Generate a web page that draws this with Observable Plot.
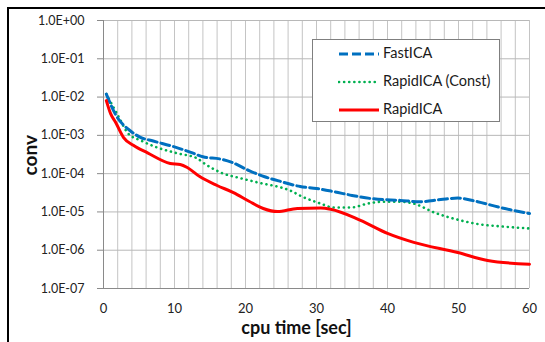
<!DOCTYPE html>
<html><head><meta charset="utf-8">
<script src="https://cdn.jsdelivr.net/npm/d3@7"></script>
<script src="https://cdn.jsdelivr.net/npm/@observablehq/plot@0.6"></script>
<style>
body{margin:0;background:#fff;}
#wrap{position:relative;width:545px;height:342px;overflow:hidden;font-family:Lato,"Open Sans",sans-serif;}
#frame{position:absolute;left:7px;top:7px;width:600px;height:400px;border-left:2px solid #000;border-top:2px solid #000;pointer-events:none;}
#legend{position:absolute;left:312px;top:39px;width:186px;height:81px;border:1px solid #7f7f7f;background:#fff;}
.row{position:absolute;left:0;height:20px;}
.row svg{position:absolute;left:25px;top:5px;}
.row span{position:absolute;left:70px;top:0px;font-size:14.5px;line-height:18px;color:#1a1a1a;white-space:nowrap;}
#plot{position:absolute;left:0;top:0;}
</style></head><body><div id="wrap"><div id="plot"></div><div id="frame"></div><div id="legend"></div></div>
<script>
// ---- data ----
const seriesNames = ["FastICA", "RapidICA (Const)", "RapidICA"];
const seriesColors = ["#0070C0", "#00B050", "#FF0000"];

const fastT = [0.4, 1.7, 3.8, 5.2, 7, 10, 12.3, 14, 16.5, 18, 20.5, 22.7, 25, 27.7, 30, 32.4, 35, 38, 41.8, 44.6, 47.5, 49.9, 52.7, 55.9, 60];
const fastV = [1.2e-2, 3.5e-3, 1.3e-3, 8.9e-4, 7.1e-4, 5.0e-4, 3.6e-4, 2.75e-4, 2.4e-4, 2.0e-4, 1.2e-4, 8.3e-5, 6.2e-5, 4.6e-5, 4.1e-5, 3.4e-5, 2.7e-5, 2.2e-5, 2.0e-5, 1.85e-5, 2.1e-5, 2.3e-5, 1.85e-5, 1.3e-5, 9.1e-6];

const constT = [0.4, 2, 3.5, 5.2, 7.6, 10.4, 13.2, 14.1, 16.5, 19.3, 21.7, 26.3, 28, 30.6, 32.4, 34.8, 37.2, 39.4, 41.8, 43.7, 46.5, 50.3, 53.1, 55.9, 60];
const constV = [1.2e-2, 3.4e-3, 1.1e-3, 7.4e-4, 4.8e-4, 3.4e-4, 2.5e-4, 1.9e-4, 1.07e-4, 7.6e-5, 5.9e-5, 3.6e-5, 2.5e-5, 1.65e-5, 1.3e-5, 1.3e-5, 1.65e-5, 1.85e-5, 1.85e-5, 1.65e-5, 9.8e-6, 6.0e-6, 4.7e-6, 4.2e-6, 3.7e-6];

const rapidT = [0.4, 1, 1.7, 2.8, 4.2, 6.2, 9.4, 10.8, 11.8, 13.5, 16, 18.3, 20.5, 22.5, 24.5, 27.3, 30.6, 32, 36.2, 40, 43.7, 49.9, 54.1, 60];
const rapidV = [8.1e-3, 3.7e-3, 2.2e-3, 8.9e-4, 5.5e-4, 3.5e-4, 1.85e-4, 1.74e-4, 1.45e-4, 8.5e-5, 4.9e-5, 3.2e-5, 1.9e-5, 1.23e-5, 1.02e-5, 1.23e-5, 1.26e-5, 1.17e-5, 6.0e-6, 2.75e-6, 1.6e-6, 8.7e-7, 5.4e-7, 4.3e-7];

const yTicks = [1, 1e-1, 1e-2, 1e-3, 1e-4, 1e-5, 1e-6, 1e-7];
const yTickLabels = ["1.0E+00", "1.0E-01", "1.0E-02", "1.0E-03", "1.0E-04", "1.0E-05", "1.0E-06", "1.0E-07"];
const xTicks = [0, 10, 20, 30, 40, 50, 60];
const xGrid = d3.range(0, 61, 2);

const xLabel = "cpu time [sec]";
const yLabel = "conv";

// ---- build ----
const toRows = (T, V) => T.map((t, i) => ({t, v: V[i]}));
const fast = toRows(fastT, fastV);
const cnst = toRows(constT, constV);
const rapid = toRows(rapidT, rapidV);
const fmt = v => yTickLabels[yTicks.findIndex(k => Math.abs(Math.log10(k) - Math.log10(v)) < 1e-6)];

const chart = Plot.plot({
  width: 545, height: 342,
  marginLeft: 103, marginRight: 16, marginTop: 20, marginBottom: 54,
  style: {fontFamily: "Lato, 'Open Sans', sans-serif", background: "transparent", color: "#222"},
  x: {domain: [0, 60]},
  y: {type: "log", domain: [1e-7, 1]},
  marks: [
    Plot.gridX(xGrid, {stroke: "#c4c4c4", strokeOpacity: 1}),
    Plot.gridY(yTicks, {stroke: "#b8b8b8", strokeOpacity: 1}),
    Plot.ruleX([0], {stroke: "#8a8a8a"}),
    Plot.ruleY([1e-7], {stroke: "#8a8a8a"}),
    Plot.axisY(yTicks, {tickFormat: fmt, tickSize: 6, tickPadding: 13, fontSize: 12.5, stroke: "#8a8a8a", label: null}),
    Plot.axisX(xTicks, {tickSize: 0, tickPadding: 15, fontSize: 13, label: null}),
    Plot.line(cnst, {x: "t", y: "v", stroke: seriesColors[1], strokeWidth: 2.6, strokeDasharray: "0.1,5", strokeLinecap: "round", curve: "monotone-x"}),
    Plot.line(fast, {x: "t", y: "v", stroke: seriesColors[0], strokeWidth: 3, strokeDasharray: "9,4", curve: "monotone-x"}),
    Plot.line(rapid, {x: "t", y: "v", stroke: seriesColors[2], strokeWidth: 3, curve: "monotone-x"}),
    Plot.text([yLabel], {frameAnchor: "left", dx: -73, dy: 21, rotate: -90, fontSize: 19, fontWeight: "bold", fill: "#111"}),
    Plot.text([xLabel], {frameAnchor: "bottom", dx: -20, dy: 45, fontSize: 18, fontWeight: "bold", fill: "#111"})
  ]
});
document.getElementById("plot").appendChild(chart);

// legend
const legend = document.getElementById("legend");
const styles = [
  {dash: "9,4", w: 3, cap: "butt"},
  {dash: "0.1,5", w: 2.6, cap: "round"},
  {dash: null, w: 3, cap: "butt"}
];
seriesNames.forEach((name, i) => {
  const row = document.createElement("div");
  row.className = "row";
  row.style.top = (4 + i * 28) + "px";
  row.style.width = "186px";
  const s = styles[i];
  row.innerHTML = `<svg width="42" height="10"><line x1="1" y1="5" x2="41" y2="5" stroke="${seriesColors[i]}" stroke-width="${s.w}" stroke-linecap="${s.cap}" ${s.dash ? `stroke-dasharray="${s.dash}"` : ""}/></svg><span>${name}</span>`;
  legend.appendChild(row);
});
</script>
</body></html>
